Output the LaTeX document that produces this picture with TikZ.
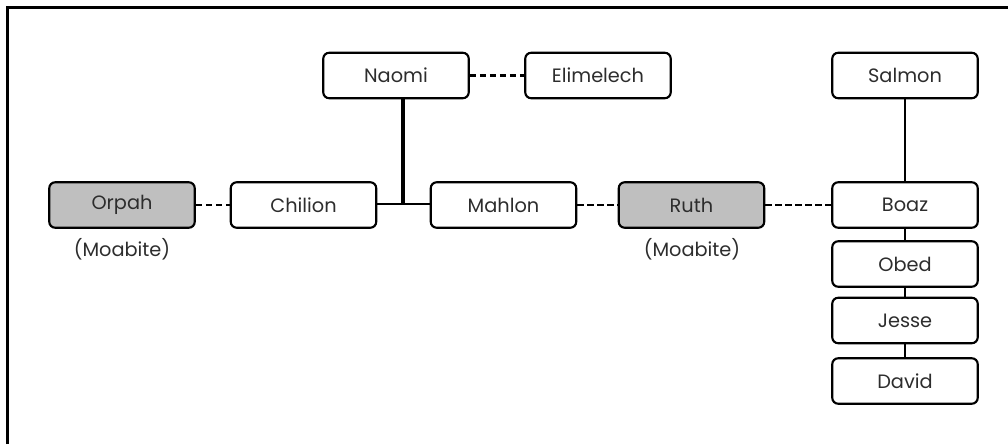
\documentclass[tikz,border=0pt]{standalone}
\usepackage{fontspec}
\setmainfont{Poppins}
\definecolor{boxgray}{RGB}{191,191,191}
\definecolor{txt}{RGB}{45,45,45}
\begin{document}
\begin{tikzpicture}[x=0.75pt,y=-0.75pt,
  person/.style={draw=black, line width=1.6pt, rounded corners=4.5pt, minimum width=145.5*0.75pt, minimum height=45.5*0.75pt, inner sep=0pt, font=\fontsize{14.5}{16}\selectfont, text=txt, fill=white},
  moab/.style={person, fill=boxgray},
  note/.style={font=\fontsize{14.5}{16}\selectfont, text=txt, inner sep=0pt},
  marr/.style={line width=1.7pt, dash pattern=on 5pt off 2.5pt},
  kin/.style={line width=1.7pt},
  frame/.style={line width=1.8pt}]
\useasboundingbox (0,0) rectangle (1008,444);
\draw[frame] (7.5,444) -- (7.5,7.5) -- (1008,7.5);
\node[person] (naomi) at (396,75.5) {Naomi};
\node[person] (elim) at (598,75.5) {Elimelech};
\node[person] (salmon) at (905,75.5) {Salmon};
\node[moab] (orpah) at (122,205) {Orpah};
\node[person] (chilion) at (303.5,205) {Chilion};
\node[person] (mahlon) at (503.5,205) {Mahlon};
\node[moab] (ruth) at (691.5,205) {Ruth};
\node[person] (boaz) at (905,205) {Boaz};
\node[person] (obed) at (905,264) {Obed};
\node[person] (jesse) at (905,320.5) {Jesse};
\node[person] (david) at (905,381) {David};
\node[note] (m1) at (122,249) {(Moabite)};
\node[note] (m2) at (692,249) {(Moabite)};
\coordinate (join) at (403,204);
\draw[marr] (naomi) -- (elim);
\draw[marr] (orpah) -- (chilion);
\draw[marr] (mahlon) -- (ruth);
\draw[marr] (ruth) -- (boaz);
\draw[kin] (chilion.east |- join) -- (mahlon.west |- join);
\draw[kin, line width=2.3pt] (naomi.south -| join) -- (join);
\draw[kin, line width=1.4pt] (salmon) -- (boaz);
\draw[kin] (boaz) -- (obed);
\draw[kin] (obed) -- (jesse);
\draw[kin] (jesse) -- (david);
\end{tikzpicture}
\end{document}
